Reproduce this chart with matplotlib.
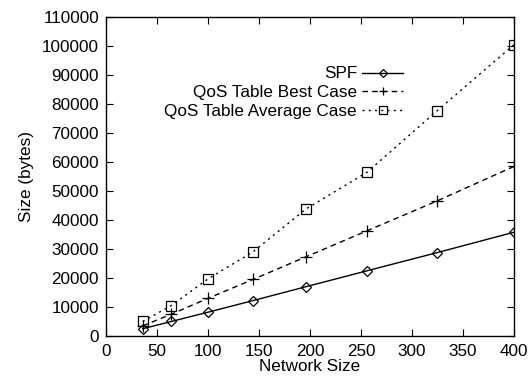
import matplotlib
matplotlib.use("Agg")
import matplotlib.pyplot as plt

network_size = [36, 64, 100, 144, 196, 256, 324, 400]
spf = [2500, 5000, 8200, 12200, 17000, 22500, 28700, 35800]
qos_best = [3500, 7500, 13000, 19500, 27300, 36300, 46500, 58500]
qos_avg = [5000, 10500, 19700, 29000, 43800, 56500, 77500, 100500]

plt.rcParams['font.family'] = ['Liberation Sans', 'DejaVu Sans']
plt.rcParams['font.size'] = 12.3

fig = plt.figure(figsize=(5.3, 3.79), dpi=100)
ax = fig.add_axes([0.2, 0.1135, 0.77, 0.8415])

ax.plot(network_size, spf, color='black', linestyle='-', linewidth=1.0,
        marker='D', markersize=5, markerfacecolor='none', markeredgewidth=0.9, label='SPF')
ax.plot(network_size, qos_best, color='black', linestyle=(0, (4, 3)), linewidth=1.0,
        marker='+', markersize=8, markeredgewidth=0.9, label='QoS Table Best Case')
ax.plot(network_size, qos_avg, color='black', linestyle=(0, (1.5, 3)), linewidth=1.0,
        marker='s', markersize=7, markerfacecolor='none', markeredgewidth=0.9, label='QoS Table Average Case')

ax.set_xlim(0, 400)
ax.set_ylim(0, 110000)
ax.set_xticks(range(0, 401, 50))
ax.set_yticks(range(0, 110001, 10000))
ax.tick_params(direction='in', top=True, right=True, length=5, width=0.8, pad=5)
ax.tick_params(axis='x', pad=6)
for s in ax.spines.values():
    s.set_linewidth(1.0)

ax.set_xlabel('Network Size', labelpad=0)
ax.set_ylabel('Size (bytes)', labelpad=6)

leg = ax.legend(loc='upper right', bbox_to_anchor=(0.728, 0.845), frameon=False,
                markerfirst=False, handlelength=2.4, handletextpad=0.3,
                labelspacing=0.22, borderpad=0, borderaxespad=0, markerscale=0.8)
for t in leg.get_texts():
    t.set_ha('right')
leg._legend_box.align = 'right'

fig.savefig('out.png', dpi=100)
